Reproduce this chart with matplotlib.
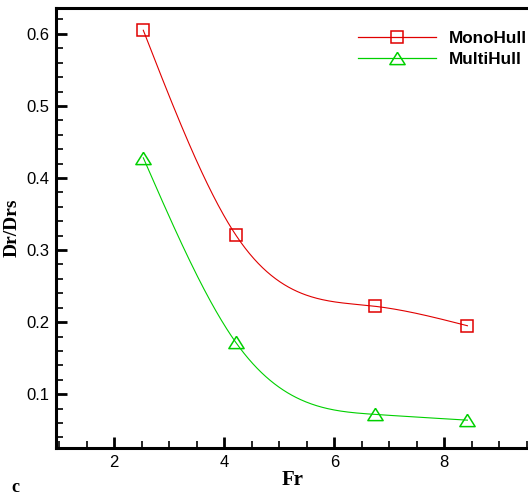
import numpy as np
import matplotlib
matplotlib.use("Agg")
import matplotlib.pyplot as plt
from matplotlib.ticker import MultipleLocator

fr = [2.53, 4.21, 6.74, 8.42]
mono = [0.605, 0.321, 0.222, 0.195]
multi = [0.428, 0.172, 0.072, 0.064]
labels = ["MonoHull", "MultiHull"]


def natural_spline(x, y, n=300):
    x = np.asarray(x, float)
    y = np.asarray(y, float)
    k = len(x)
    h = np.diff(x)
    A = np.zeros((k, k))
    b = np.zeros(k)
    A[0, 0] = 1
    A[-1, -1] = 1
    for i in range(1, k - 1):
        A[i, i - 1] = h[i - 1]
        A[i, i] = 2 * (h[i - 1] + h[i])
        A[i, i + 1] = h[i]
        b[i] = 6 * ((y[i + 1] - y[i]) / h[i] - (y[i] - y[i - 1]) / h[i - 1])
    M = np.linalg.solve(A, b)
    xs = np.linspace(x[0], x[-1], n)
    ys = np.empty_like(xs)
    for j, xv in enumerate(xs):
        i = min(np.searchsorted(x, xv, side="right") - 1, k - 2)
        t0 = x[i + 1] - xv
        t1 = xv - x[i]
        ys[j] = (M[i] * t0 ** 3 / (6 * h[i]) + M[i + 1] * t1 ** 3 / (6 * h[i])
                 + (y[i] / h[i] - M[i] * h[i] / 6) * t0
                 + (y[i + 1] / h[i] - M[i + 1] * h[i] / 6) * t1)
    return xs, ys


red = "#e00000"
green = "#00d000"
tri = [(0, 0.8), (-1, -0.8), (1, -0.8), (0, 0.8)]

fig = plt.figure(figsize=(5.28, 4.95), dpi=100)
ax = fig.add_axes([0.106, 0.095, 0.896, 0.889])

for ys_data, col, mk, ms, lab in [(mono, red, "s", 8.5, labels[0]),
                                  (multi, green, tri, 11, labels[1])]:
    xs, ys = natural_spline(fr, ys_data)
    ax.plot(xs, ys, color=col, lw=0.8, zorder=2)
    ax.plot(fr, ys_data, linestyle="none", marker=mk, ms=ms, mfc="none",
            mec=col, mew=1.1, zorder=3)
    ax.plot([], [], color=col, lw=0.9, marker=mk, ms=ms, mfc="none",
            mec=col, mew=1.1, label=lab)

ax.set_xlim(0.943, 9.54)
ax.set_ylim(0.0254, 0.636)
ax.xaxis.set_major_locator(MultipleLocator(2))
ax.xaxis.set_minor_locator(MultipleLocator(0.5))
ax.yaxis.set_major_locator(MultipleLocator(0.1))
ax.yaxis.set_minor_locator(MultipleLocator(0.02))
ax.tick_params(which="major", direction="in", length=8, width=2,
               labelsize=12, pad=5, top=False, right=False)
ax.tick_params(which="minor", direction="in", length=5, width=1.2,
               top=False, right=False)
for lab in ax.get_xticklabels() + ax.get_yticklabels():
    lab.set_fontfamily("Liberation Sans")

for s in ["left", "bottom", "top"]:
    ax.spines[s].set_linewidth(2.2)
ax.spines["right"].set_visible(False)

ax.set_xlabel("Fr", fontfamily="Liberation Serif", fontweight="bold",
              fontsize=15, labelpad=0)
ax.set_ylabel("Dr/Drs", fontfamily="Liberation Serif", fontweight="bold",
              fontsize=14, labelpad=4)

fig.text(0.022, 0.006, "c", fontfamily="Liberation Serif", fontweight="bold",
         fontsize=13)

leg = ax.legend(loc="upper left", bbox_to_anchor=(0.661, 0.955),
                bbox_transform=fig.transFigure, frameon=False,
                handlelength=4.6, handletextpad=0.75, labelspacing=0.35,
                borderpad=0, prop={"family": "Liberation Sans",
                                   "weight": "bold", "size": 12.3})

fig.savefig("out.png", dpi=100)
